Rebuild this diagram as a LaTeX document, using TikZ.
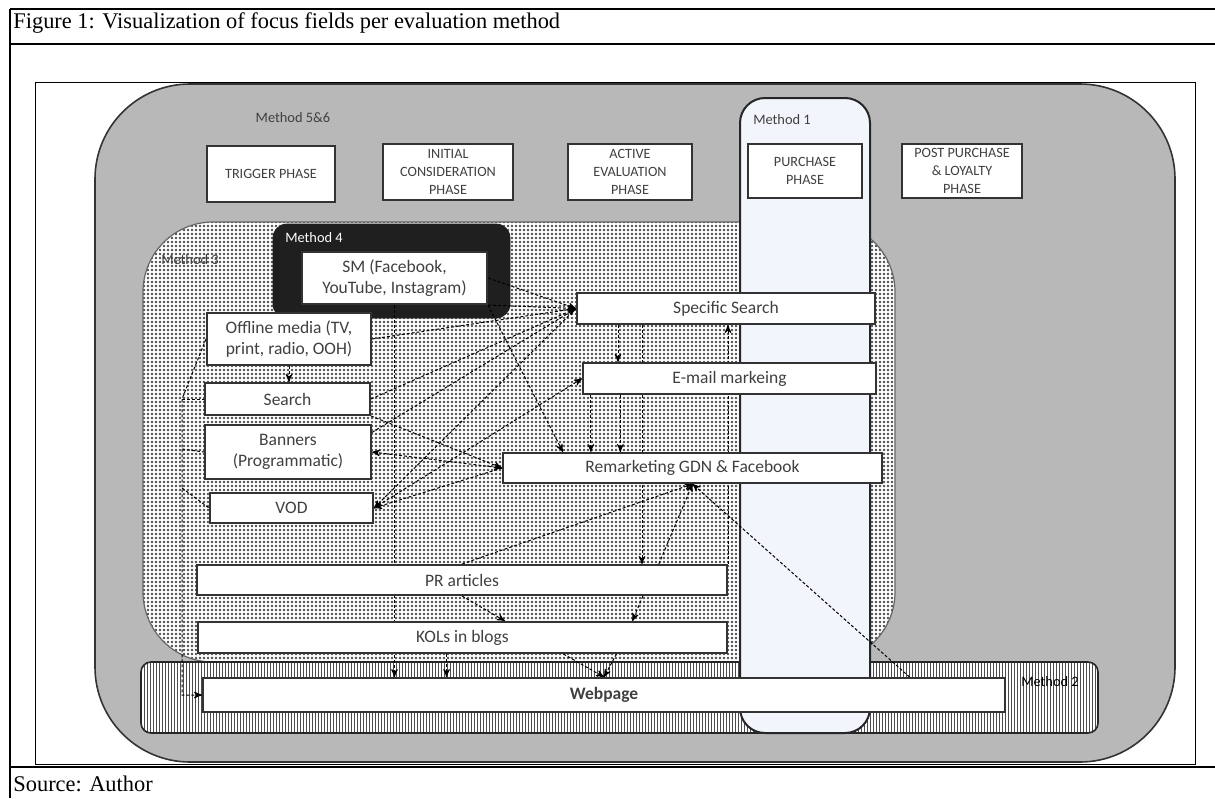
\documentclass[tikz,border=0pt]{standalone}
\usepackage{fontspec}
\setmainfont{Liberation Serif}
\newfontfamily\calfont{Carlito}
\usetikzlibrary{arrows,calc,patterns.meta}
\definecolor{OuterClr}{rgb}{0.72,0.72,0.72}
\definecolor{DotClr}{rgb}{0.3,0.3,0.3}
\definecolor{PurchClr}{rgb}{0.95,0.96,0.985}
\definecolor{StripeClr}{rgb}{0.3,0.3,0.3}
\definecolor{DarkClr}{rgb}{0.12,0.12,0.12}
\definecolor{TextClr}{rgb}{0.25,0.25,0.25}
\definecolor{EdgeClr}{rgb}{0.2,0.2,0.2}
\pgfdeclarelayer{bg}
\pgfdeclarelayer{wires}
\pgfsetlayers{bg,wires,main}

\begin{document}
\begin{tikzpicture}[x=0.5pt,y=-0.5pt,
  box/.style={draw=EdgeClr,fill=white,line width=1pt,inner sep=0pt,align=center,text=TextClr,font=\calfont\fontsize{8.75}{10.75}\selectfont},
  phase/.style={box,font=\calfont\fontsize{7.1}{9.2}\selectfont},
  mlabel/.style={text=TextClr,font=\calfont\fontsize{7.2}{8}\selectfont},
  conn/.style={->,>=stealth',line width=0.5pt,dash pattern=on 1.5pt off 1pt}]
\useasboundingbox (0,0) rectangle (1215,798);

\draw[line width=0.8pt] (10,9) -- (1215,9);
\draw[line width=0.8pt] (10,9) -- (10,798);
\draw[line width=0.8pt] (10,44) -- (1215,44);
\draw[line width=1.2pt] (10,767) -- (1215,767);
\node[anchor=base west,inner sep=0pt,font=\fontsize{11.2}{13}\selectfont] (Ttl) at (13,28) {Figure 1: Visualization of focus fields per evaluation method};
\node[anchor=base west,inner sep=0pt,font=\fontsize{11.2}{13}\selectfont] (Src) at (13,791) {Source: Author};

\begin{pgfonlayer}{bg}
\draw[line width=0.5pt] (35,82) rectangle (1195,764);
\draw[fill=OuterClr,draw=black!80,line width=0.8pt,rounded corners=47.5pt] (95,84) rectangle (1175,762);
\draw[preaction={fill=white},pattern={Dots[distance=2pt,radius=0.65pt]},pattern color=DotClr,draw=black!60,line width=0.6pt,rounded corners=35pt] (143,222) rectangle (895,662);
\draw[preaction={fill=white},pattern={Lines[angle=90,distance=1.5pt,line width=0.4pt]},pattern color=StripeClr,draw=black!85,line width=0.8pt,rounded corners=5pt] (141,662) rectangle (1098,733);
\draw[fill=PurchClr,draw=black!85,line width=1pt,rounded corners=12.5pt] (740,98) rectangle (870,733);
\draw[fill=DarkClr,draw=DarkClr,rounded corners=7pt] (273,224) rectangle (510,318);
\end{pgfonlayer}

\node[mlabel] (m56) at (293,118) {Method 5\&6};
\node[mlabel] (m1) at (782,120) {Method 1};
\node[mlabel] (m3) at (190,260) {Method 3};
\node[mlabel,text=white] (m4) at (314,238) {Method 4};
\node[mlabel,text=black] (m2) at (1050,682) {Method 2};

\node[phase,minimum width=64pt,minimum height=28pt] (Trig) at (271,174) {TRIGGER PHASE};
\node[phase,minimum width=65pt,minimum height=28pt] (Init) at (448,172) {INITIAL\\CONSIDERATION\\PHASE};
\node[phase,minimum width=62pt,minimum height=28pt] (Act) at (630,172) {ACTIVE\\EVALUATION\\PHASE};
\node[phase,minimum width=57pt,minimum height=27pt] (Purch) at (805,171) {PURCHASE\\PHASE};
\node[phase,minimum width=60pt,minimum height=27pt] (Post) at (962,171) {POST PURCHASE\\\& LOYALTY\\PHASE};

\node[box,minimum width=92.5pt,minimum height=26pt] (SM) at (394.5,278) {SM (Facebook,\\YouTube, Instagram)};
\node[box,minimum width=82pt,minimum height=26pt] (Off) at (289,339) {Offline media (TV,\\print, radio, OOH)};
\node[box,minimum width=82.5pt,minimum height=16pt] (Srch) at (287.5,399) {Search};
\node[box,minimum width=83pt,minimum height=27pt] (Ban) at (288,452) {Banners\\(Programmatic)};
\node[box,minimum width=81.5pt,minimum height=15pt] (VOD) at (291.5,508) {VOD};
\node[box,minimum width=149pt,minimum height=15.5pt] (Spec) at (726,308.5) {Specific Search};
\node[box,minimum width=146.5pt,minimum height=15.5pt] (Mail) at (729.5,378.5) {E-mail markeing};
\node[box,minimum width=189.5pt,minimum height=15pt] (Rem) at (692.5,468) {Remarketing GDN \& Facebook};
\node[box,minimum width=265pt,minimum height=15pt] (PR) at (462,580) {PR articles};
\node[box,minimum width=264.5pt,minimum height=15.5pt] (KOL) at (462.5,637.5) {KOLs in blogs};
\node[box,minimum width=401pt,minimum height=17pt,font=\calfont\bfseries\fontsize{8.75}{10.75}\selectfont] (Web) at (604,695) {Webpage};

\begin{pgfonlayer}{wires}
\foreach \src in {SM.east,SM.south east,Off.east,Srch.east}
  \draw[conn] (\src) -- (Spec.west);
\draw[conn] ($(Ban.north east)!.15!(Ban.south east)$) -- (Spec.west);
\draw[conn] (Spec.west) -- (VOD.east);
\draw[conn] (Rem.west) -- (VOD.east);
\draw[conn] (VOD.east) -- (Mail.west);
\draw[conn] (Srch.south east) -- (Rem.west);
\draw[conn,<->] (Ban.east) -- (Rem.west);
\draw[conn] (SM.south east) -- ($(Rem.north west)!.16!(Rem.north east)$);
\draw[conn] (Off.south) -- (Off.south |- Srch.north);
\draw[conn] (SM.south) -- (SM.south |- Web.north);

\coordinate (s1) at ($(Spec.south west)!.14!(Spec.south east)$);
\coordinate (s2) at ($(Spec.south west)!.22!(Spec.south east)$);
\coordinate (e1) at ($(Mail.south west)!.03!(Mail.south east)$);
\coordinate (e2) at ($(Mail.south west)!.13!(Mail.south east)$);
\coordinate (k1) at ($(KOL.south west)!.47!(KOL.south east)$);
\coordinate (p1) at ($(PR.north west)!.87!(PR.north east)$);
\coordinate (w1) at ($(Web.north west)!.88!(Web.north east)$);
\draw[conn] (s1) -- (s1 |- Mail.north);
\draw[conn] (s2) -- (s2 |- PR.north);
\draw[conn] (e1) -- (e1 |- Rem.north);
\draw[conn] (e2) -- (e2 |- Rem.north);
\draw[conn] (PR.north east) -- (PR.north east |- Spec.south);
\draw[conn] (k1) -- (k1 |- Web.north);
\foreach \src in {PR.north,p1,w1}
  \draw[conn] (\src) -- (Rem.south);
\draw[conn] (PR.south) -- ($(KOL.north west)!.58!(KOL.north east)$);
\draw[conn] ($(PR.south west)!.84!(PR.south east)$) -- ($(KOL.north west)!.82!(KOL.north east)$);
\draw[conn] ($(KOL.south west)!.69!(KOL.south east)$) -- (Web.north);
\draw[conn] ($(KOL.south west)!.79!(KOL.south east)$) -- (Web.north);

\coordinate (L1) at ($(Srch.west)+(-22,0)$);
\draw[conn] (Off.west) -- (L1) -- (L1 |- Web.west) -- (Web.west);
\draw[conn,-] (L1) -- (Srch.west);
\draw[conn,-] ($(Ban.west)+(-22,-3)$) -- (Ban.west);
\draw[conn,-] ($(VOD.west)+(-27,-20)$) -- (VOD.west);
\end{pgfonlayer}
\end{tikzpicture}
\end{document}
